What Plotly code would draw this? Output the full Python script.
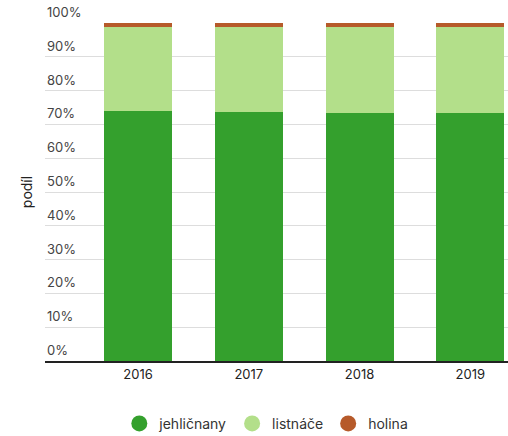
import plotly.graph_objects as go

years = ["2016", "2017", "2018", "2019"]
jehlicnany = [74.1, 73.8, 73.5, 73.5]
listnace = [24.8, 25.1, 25.4, 25.4]
holina = [1.1, 1.1, 1.1, 1.1]
y_ticks = [0, 10, 20, 30, 40, 50, 60, 70, 80, 90, 100]
y_tick_labels = [f"{v}%" for v in y_ticks]

names = ["jehličnany", "listnáče", "holina"]
colors = ["#34a02d", "#b3df8a", "#b65a2a"]
series = [jehlicnany, listnace, holina]

FONT = "Inter"
fig = go.Figure()
for name, vals, col in zip(names, series, colors):
    fig.add_trace(go.Bar(x=years, y=vals, name=name, marker=dict(color=col, line=dict(width=0)),
                         showlegend=False))
for name, col in zip(names, colors):
    fig.add_trace(go.Scatter(x=[None], y=[None], mode="markers", name=name,
                             marker=dict(color=col, size=18, symbol="circle")))

for v, t in zip(y_ticks, y_tick_labels):
    fig.add_annotation(x=0, xref="paper", xanchor="left", y=v, yref="y", yanchor="bottom",
                       yshift=1, text=t, showarrow=False,
                       font=dict(family=FONT, size=13, color="#444"))

fig.update_layout(
    width=508, height=436,
    barmode="stack", bargap=0.386,
    plot_bgcolor="white", paper_bgcolor="white",
    margin=dict(l=45, r=0, t=23, b=75, autoexpand=False),
    font=dict(family=FONT, size=13, color="#333"),
    xaxis=dict(range=[-0.84, 3.34], showline=True, linecolor="#222", linewidth=2,
               ticks="", tickfont=dict(size=13, color="#222"), showgrid=False, fixedrange=True),
    yaxis=dict(range=[0, 100], tickvals=y_ticks, showticklabels=False,
               showgrid=True, gridcolor="#dddddd", gridwidth=1,
               zeroline=False, fixedrange=True,
               title=dict(text="podíl", font=dict(size=14, color="#222"), standoff=8)),
    legend=dict(orientation="h", x=0.478, xanchor="center", y=-0.186, yanchor="middle",
                font=dict(size=14, color="#333"), itemsizing="trace", traceorder="normal"),
)
fig.write_html("out.html", config={"displayModeBar": False},
               post_script="document.body.style.margin='0';")
